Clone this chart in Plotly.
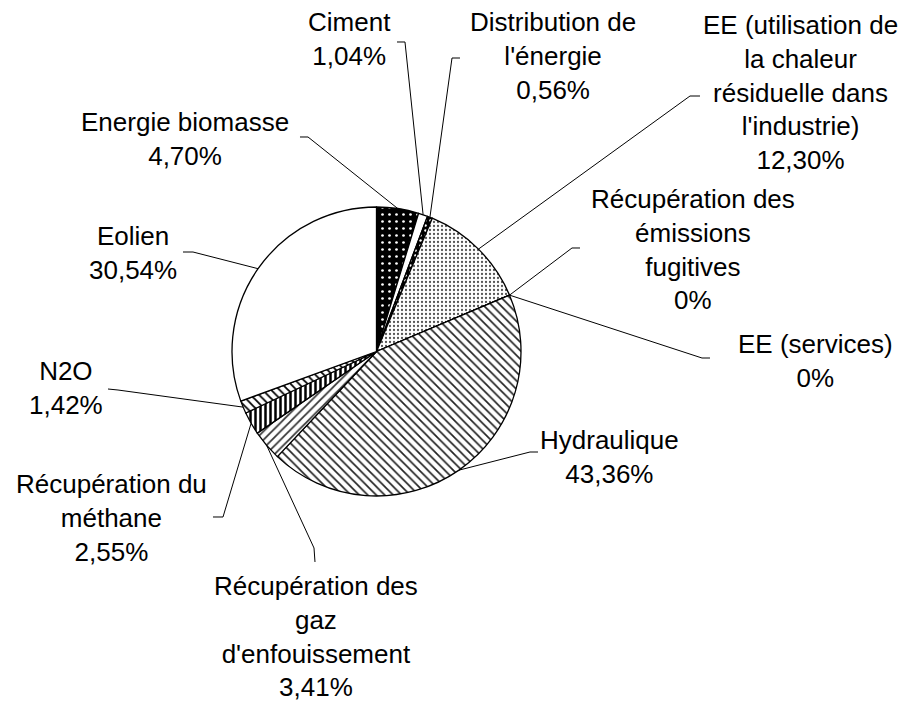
import plotly.graph_objects as go
import numpy as np

W, H = 913, 702
OFF = 8  # page body margin offset in the browser

categories = ["Energie biomasse", "Ciment", "Distribution de<br>l'énergie",
              "EE (utilisation de<br>la chaleur<br>résiduelle dans<br>l'industrie)",
              "Récupération des<br>émissions<br>fugitives", "EE (services)",
              "Hydraulique", "Récupération des<br>gaz<br>d'enfouissement",
              "Récupération du<br>méthane", "N2O", "Eolien"]
values = [4.70, 1.04, 0.56, 12.30, 0, 0, 43.36, 3.41, 2.55, 1.42, 30.54]

# fill styles per slice
bg_colors = ["#000000", "#ffffff", "#000000", "#ffffff", "#ffffff", "#ffffff",
             "#ffffff", "#ffffff", "#ffffff", "#ffffff", "#ffffff"]
fg_colors = ["#ffffff", "#ffffff", "#ffffff", "#555555", "#000000", "#000000",
             "#222222", "#333333", "#000000", "#000000", "#ffffff"]
shapes_pat = [".", "", ".", ".", "", "", "\\", "/", "|", "\\", ""]
pat_size = [7, 8, 5, 4, 8, 8, 6, 6, 5, 6, 8]
pat_solid = [0.12, 0.3, 0.2, 0.25, 0.3, 0.3, 0.28, 0.28, 0.5, 0.3, 0.3]

# label block centres (pixels) and leader elbow points (pixels)
label_pos = [(185, 139), (349, 39), (553, 56), (800, 93), (693, 250), (815, 361),
             (609, 457), (316, 636), (111, 518), (66, 388), (133, 253)]
elbows = [[(300, 137), (308, 137)], [(397, 42), (405, 42)], [(460, 58), (452, 58)],
          [(700, 96), (690, 96)], [(580, 248), (572, 248)], [(710, 358), (702, 358)],
          [(538, 452), (530, 452)], [(315, 562), (314, 548)], [(213, 517), (223, 517)],
          [(108, 389), (118, 390)], [(183, 252), (193, 252)]]

cx, cy, r = 376.5, 351.5, 144.5


def px(x, y):
    return (x - OFF) / W, 1 - (y - OFF) / H


def fmt(v):
    return "0%" if v == 0 else f"{v:.2f}".replace(".", ",") + "%"


x0, y1 = px(cx - r, cy - r)
x1, y0 = px(cx + r, cy + r)

fig = go.Figure()
fig.add_trace(go.Pie(
    labels=categories, values=values, sort=False, direction="clockwise",
    rotation=0, textinfo="none", hoverinfo="skip", showlegend=False,
    domain=dict(x=[x0, x1], y=[y0, y1]),
    marker=dict(colors=bg_colors, line=dict(color="black", width=1.3),
                pattern=dict(shape=shapes_pat, fgcolor=fg_colors, bgcolor=bg_colors,
                             size=pat_size, solidity=pat_solid, fillmode="replace")),
))

total = sum(values)
cum = np.cumsum([0] + values[:-1])
shapes = []
annotations = []
for i, v in enumerate(values):
    mid = (cum[i] + v / 2) / total * 2 * np.pi
    ex, ey = cx + r * np.sin(mid), cy - r * np.cos(mid)
    pts = elbows[i] + [(ex, ey)]
    path = "M " + " L ".join("{:.5f},{:.5f}".format(*px(x, y)) for x, y in pts)
    shapes.append(dict(type="path", path=path, xref="paper", yref="paper",
                       line=dict(color="black", width=1)))
    lx, ly = px(*label_pos[i])
    annotations.append(dict(text=categories[i] + "<br>" + fmt(v), x=lx, y=ly,
                            xref="paper", yref="paper", xanchor="center", yanchor="middle",
                            align="center", showarrow=False,
                            font=dict(family="Liberation Sans, Arial", size=26, color="black")))

fig.update_layout(width=W, height=H, margin=dict(l=0, r=0, t=0, b=0),
                  paper_bgcolor="white", plot_bgcolor="white",
                  shapes=shapes, annotations=annotations)
fig.write_html("out.html")
